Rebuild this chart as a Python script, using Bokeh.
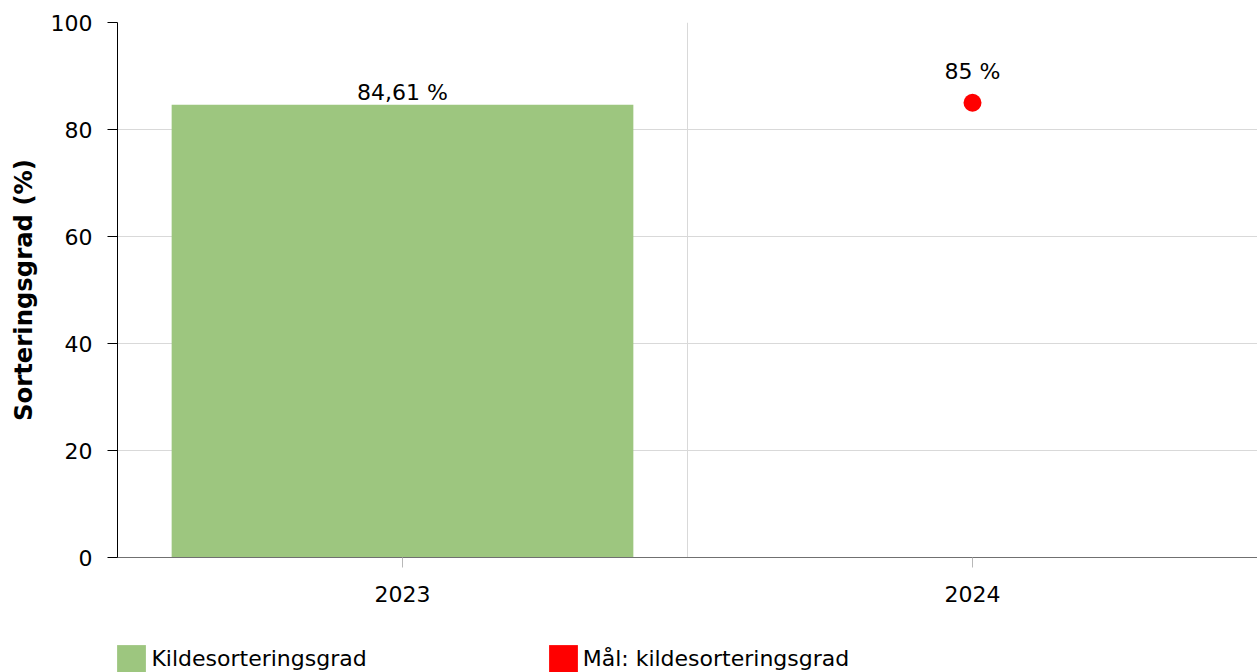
from bokeh.plotting import figure
from bokeh.layouts import column
from bokeh.models import (ColumnDataSource, FactorRange, Range1d, FixedTicker,
                          Legend, LegendItem, LabelSet)
from bokeh.core.properties import value
from bokeh.embed import file_html
from bokeh.resources import INLINE

# ---- data ----
years = ["2023", "2024"]
rate_years = ["2023"]
rate_values = [84.61]
target_years = ["2024"]
target_values = [85]
y_ticks = [0, 20, 40, 60, 80, 100]
series_names = ["Kildesorteringsgrad", "Mål: kildesorteringsgrad"]
y_title = "Sorteringsgrad (%)"


def fmt(v):
    return ("%g" % v).replace(".", ",") + " %"


FONT = "DejaVu Sans"
FS = "22px"
GREEN = "#9dc67f"
RED = "#ff0000"
W = 1257

p = figure(x_range=FactorRange(*years), y_range=Range1d(0, 100),
           width=W, height=618, output_backend="svg", toolbar_location=None,
           min_border_left=117, min_border_right=0, min_border_top=22,
           min_border_bottom=61)
p.outline_line_color = None
p.background_fill_color = "white"
p.border_fill_color = "white"

bar_src = ColumnDataSource(dict(x=rate_years, top=rate_values,
                                label=[fmt(v) for v in rate_values]))
bars = p.vbar(x="x", top="top", width=0.81, source=bar_src,
              fill_color=GREEN, line_color=None)
p.add_layout(LabelSet(x="x", y="top", text="label", source=bar_src,
                      text_align="center", text_baseline="alphabetic",
                      y_offset=5, text_font=value(FONT), text_font_size=FS,
                      text_color="black"))

pt_src = ColumnDataSource(dict(x=target_years, y=target_values,
                               label=[fmt(v) for v in target_values]))
p.scatter(x="x", y="y", source=pt_src, size=18, marker="circle",
          fill_color=RED, line_color=None)
p.add_layout(LabelSet(x="x", y="y", text="label", source=pt_src,
                      text_align="center", text_baseline="alphabetic",
                      y_offset=24, text_font=value(FONT), text_font_size=FS,
                      text_color="black"))

# axes
p.yaxis.ticker = FixedTicker(ticks=y_ticks)
p.yaxis.axis_line_color = "black"
p.yaxis.major_tick_line_color = "black"
p.yaxis.major_tick_out = 10
p.yaxis.major_tick_in = 0
p.yaxis.minor_tick_line_color = None
p.yaxis.major_label_standoff = 15
p.yaxis.major_label_text_font = FONT
p.yaxis.major_label_text_font_size = FS
p.yaxis.major_label_text_color = "black"
p.yaxis.axis_label = y_title
p.yaxis.axis_label_text_font = FONT
p.yaxis.axis_label_text_font_size = "24.3px"
p.yaxis.axis_label_text_font_style = "bold"
p.yaxis.axis_label_text_color = "black"
p.yaxis.axis_label_standoff = 10

p.xaxis.axis_line_color = "#707070"
p.xaxis.major_tick_line_color = "#b8b8b8"
p.xaxis.major_tick_out = 10
p.xaxis.major_tick_in = 0
p.xaxis.major_label_standoff = 18
p.xaxis.major_label_text_font = FONT
p.xaxis.major_label_text_font_size = FS
p.xaxis.major_label_text_color = "black"

p.ygrid.grid_line_color = "#d9d9d9"
p.xgrid.ticker = FixedTicker(ticks=[1])
p.xgrid.grid_line_color = "#d9d9d9"

# ---- legend strip below the chart ----
lp = figure(width=W, height=54, x_range=p.x_range, y_range=p.y_range,
            output_backend="svg", toolbar_location=None,
            x_axis_type=None, y_axis_type=None,
            min_border=0, min_border_left=117, min_border_right=0,
            min_border_top=0, min_border_bottom=0)
lp.outline_line_color = None
lp.background_fill_color = "white"
lp.border_fill_color = "white"
lp.xgrid.visible = False
lp.ygrid.visible = False
sw1 = lp.vbar(x="x", top="top", width=0.8, source=bar_src,
              fill_color=GREEN, line_color=None, visible=False)
sw2 = lp.vbar(x="x", top="y", width=0.8, source=pt_src,
              fill_color=RED, line_color=None, visible=False)
lg = Legend(items=[LegendItem(label=series_names[0], renderers=[sw1]),
                   LegendItem(label=series_names[1], renderers=[sw2])],
            location=(-3.6, -4.6), orientation="horizontal",
            glyph_width=36, glyph_height=36, label_standoff=2,
            spacing=178, padding=0, margin=0,
            border_line_color=None, background_fill_alpha=0,
            inactive_fill_alpha=0,
            label_text_font=FONT, label_text_font_size=FS,
            label_text_color="black", label_text_baseline="middle")
lp.add_layout(lg, "center")

open("out.html", "w").write(file_html(column(p, lp, spacing=0), INLINE))
